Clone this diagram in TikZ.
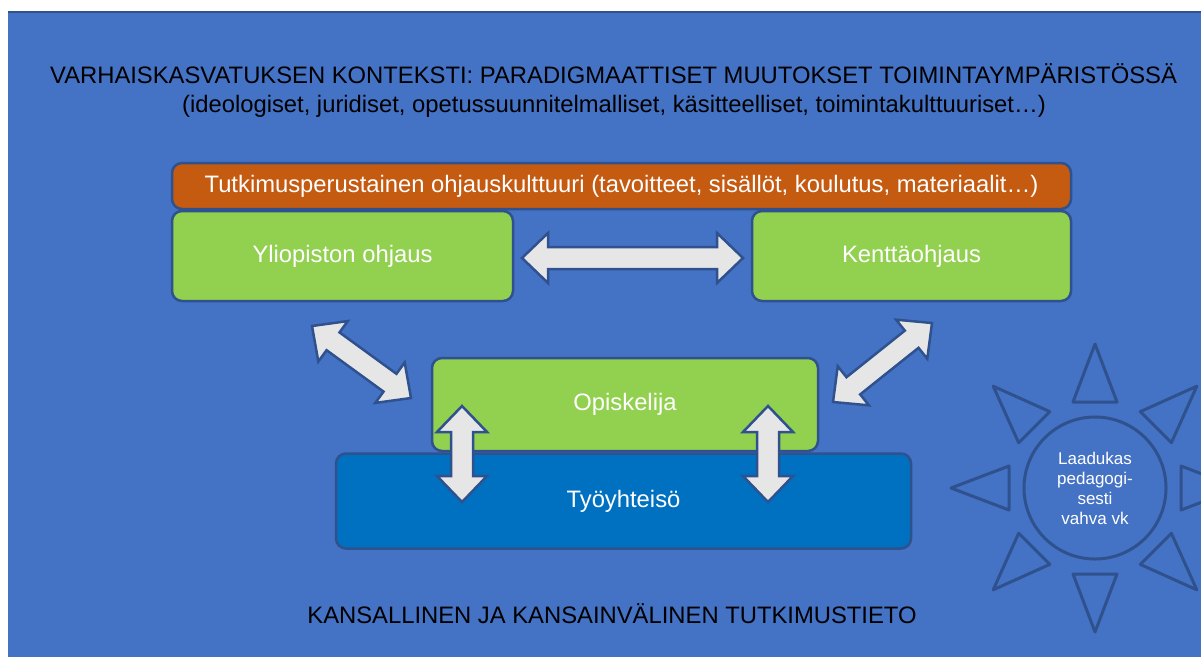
\documentclass[tikz,border=0pt]{standalone}
\usepackage{fontspec}
\setmainfont{Liberation Sans}
\usetikzlibrary{calc}

\definecolor{bgblue}{HTML}{4472C4}
\definecolor{edgeblue}{HTML}{2F528F}
\definecolor{leafgreen}{HTML}{92D050}
\definecolor{rustorange}{HTML}{C55A11}
\definecolor{deepblue}{HTML}{0070C0}
\definecolor{arrowgray}{HTML}{E7E6E6}

\newcommand{\blockarrow}[2]{%
  \draw[arrowbox] (#1)
    -- ($(#1)!26pt!(#2)!25pt!90:(#2)$)
    -- ($(#1)!26pt!(#2)!11pt!90:(#2)$)
    -- ($(#2)!26pt!(#1)!11pt!-90:(#1)$)
    -- ($(#2)!26pt!(#1)!25pt!-90:(#1)$)
    -- (#2)
    -- ($(#2)!26pt!(#1)!25pt!90:(#1)$)
    -- ($(#2)!26pt!(#1)!11pt!90:(#1)$)
    -- ($(#1)!26pt!(#2)!11pt!-90:(#2)$)
    -- ($(#1)!26pt!(#2)!25pt!-90:(#2)$)
    -- cycle;}

\begin{document}
\begin{tikzpicture}[x=1pt, y=-1pt,
    every node/.style={font=\fontsize{23.8}{28}\selectfont},
    box/.style={draw=edgeblue, line width=2.5pt, rounded corners=10pt, text=white, inner sep=0pt},
    arrowbox/.style={fill=arrowgray, draw=edgeblue, line width=2.5pt, line join=miter},
    sunline/.style={draw=edgeblue, line width=3pt, line join=round}]
    \useasboundingbox (0,0) rectangle (1201,657);
    \fill[bgblue] (8,11) rectangle (1201,657);
    \draw[edgeblue, line width=1.5pt] (8,11.75) -- (1201,11.75);

    % headings
    \node (title) [anchor=base] at (613.5,83) {VARHAISKASVATUKSEN KONTEKSTI: PARADIGMAATTISET MUUTOKSET TOIMINTAYMPÄRISTÖSSÄ};
    \node (subtitle) [anchor=base] at (614,112) {(ideologiset, juridiset, opetussuunnitelmalliset, käsitteelliset, toimintakulttuuriset…)};
    \node (research) [anchor=base] at (612,623) {KANSALLINEN JA KANSAINVÄLINEN TUTKIMUSTIETO};

    % boxes
    \node (culture) [box, fill=rustorange, minimum width=899pt, minimum height=46pt] at (621.5,186) {Tutkimusperustainen ohjauskulttuuri (tavoitteet, sisällöt, koulutus, materiaalit…)};
    \node (univ) [box, fill=leafgreen, minimum width=341pt, minimum height=90pt] at (342.5,256) {Yliopiston ohjaus};
    \node (field) [box, fill=leafgreen, minimum width=319pt, minimum height=90pt] at (911.5,256) {Kenttäohjaus};
    \node (work) [box, fill=deepblue, minimum width=575pt, minimum height=95pt] at (623.5,501) {Työyhteisö};
    \node (student) [box, fill=leafgreen, minimum width=386pt, minimum height=93pt] at (625,404.5) {Opiskelija};

    % arrow ends
    \coordinate (univ-e) at (522,258);
    \coordinate (field-w) at (743,258);
    \coordinate (univ-s) at (312,326);
    \coordinate (student-nw) at (411,398);
    \coordinate (field-s) at (932,323);
    \coordinate (student-ne) at (833,402);
    \coordinate (student-l) at (462,406);
    \coordinate (work-l) at (462,502);
    \coordinate (student-r) at (768,406);
    \coordinate (work-r) at (768,502);

    \blockarrow{univ-e}{field-w}
    \blockarrow{univ-s}{student-nw}
    \blockarrow{field-s}{student-ne}
    \blockarrow{student-l}{work-l}
    \blockarrow{student-r}{work-r}

    % sun
    \node (sun) [circle, sunline, minimum size=142pt, inner sep=0pt, text=white, align=center, font=\fontsize{17}{20}\selectfont] at (1095,488) {Laadukas\\pedagogi-\\sesti\\vahva vk};
    \begin{scope}[shift={(sun.center)}]
        \foreach \a in {0,45,...,315}
            \draw[sunline, rotate=\a] (-22,-86) -- (22,-86) -- (0,-144) -- cycle;
    \end{scope}
\end{tikzpicture}
\end{document}
